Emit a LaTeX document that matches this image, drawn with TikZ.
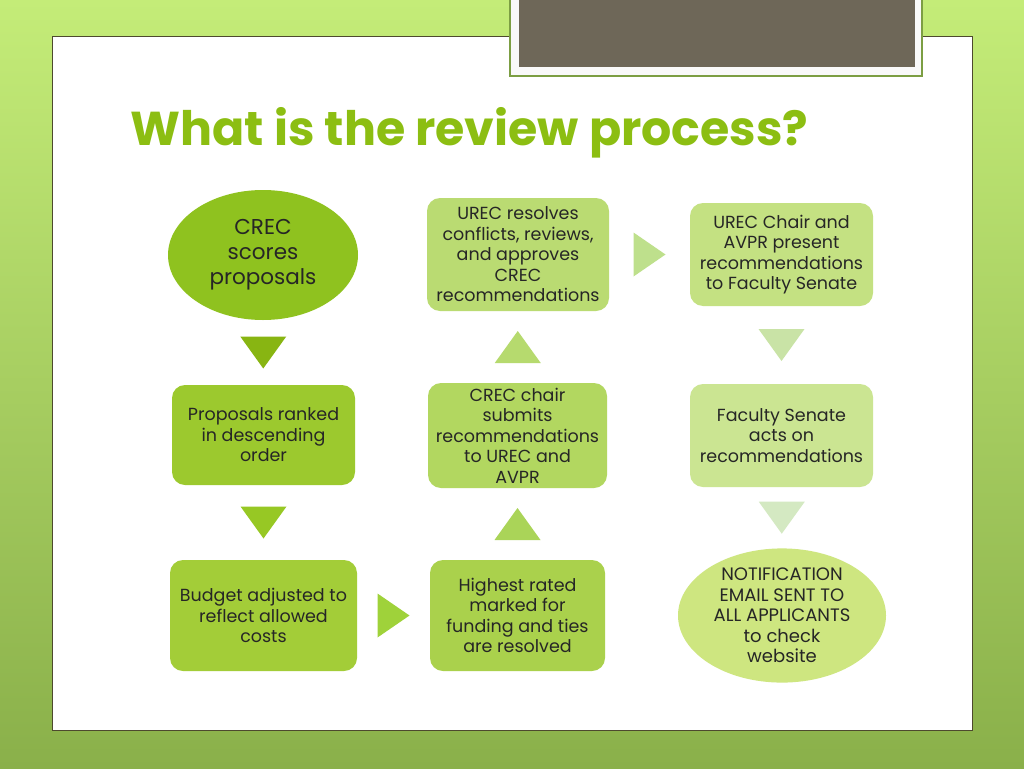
\documentclass[tikz,border=0pt]{standalone}
\usepackage{fontspec}
\setmainfont{Poppins}
\usetikzlibrary{shapes.geometric,calc}

\definecolor{bgtop}{HTML}{C4EC78}
\definecolor{bgbot}{HTML}{8AB04A}
\definecolor{titlegreen}{HTML}{8CBE12}
\definecolor{framegray}{HTML}{6E6758}
\definecolor{cA}{HTML}{8FC21F}
\definecolor{cB}{HTML}{88B512}
\definecolor{cC}{HTML}{9CC92E}
\definecolor{cD}{HTML}{97C824}
\definecolor{cE}{HTML}{A3CD38}
\definecolor{cF}{HTML}{9FD23A}
\definecolor{cG}{HTML}{AAD14C}
\definecolor{cH}{HTML}{AAD458}
\definecolor{cI}{HTML}{B2D760}
\definecolor{cJ}{HTML}{B6DA6E}
\definecolor{cK}{HTML}{BADB72}
\definecolor{cL}{HTML}{BEE08C}
\definecolor{cM}{HTML}{C4E182}
\definecolor{cN}{HTML}{C9E3A6}
\definecolor{cO}{HTML}{CBE592}
\definecolor{cP}{HTML}{D4E9C2}
\definecolor{cQ}{HTML}{CEE680}

\tikzset{
  box/.style={rounded corners=13pt, align=center, inner sep=0pt, text=black!85,
              font=\fontsize{17.5}{20.5}\selectfont},
  blob/.style={ellipse, align=center, inner sep=0pt, text=black!85},
  down/.pic={\fill (-23,-16) -- (23,-16) -- (0,16) -- cycle;},
  up/.pic={\fill (-23,16) -- (23,16) -- (0,-16) -- cycle;},
  right/.pic={\fill (-16,-22) -- (-16,22) -- (16,0) -- cycle;}
}

\begin{document}
\begin{tikzpicture}[x=1pt,y=-1pt]
    \useasboundingbox (0,0) rectangle (1024,768);
    % background and slide
    \shade[top color=bgtop, bottom color=bgbot] (0,0) rectangle (1024,768);
    \fill[white, draw=black!60!olive, line width=1pt] (52,37) rectangle (972,730);
    \fill[white!95!gray, draw=bgbot!90!black, line width=1.2pt] (510,-5) rectangle (922,76);
    \fill[framegray] (519,-5) rectangle (915,67);
    \node[anchor=base west, text=titlegreen, font=\fontsize{47.5}{50}\selectfont\bfseries] (title) at (127,145) {What is the review process?};

    % steps
    \node[blob, fill=cA, minimum width=190, minimum height=130, font=\fontsize{21.5}{25}\selectfont] (crec) at (263,255) {CREC\\scores\\proposals};
    \node[box, fill=cC, minimum width=183, minimum height=100] (rank) at (263.5,435) {Proposals ranked\\in descending\\order};
    \node[box, fill=cE, minimum width=187, minimum height=111] (budget) at (263.5,615.5) {Budget adjusted to\\reflect allowed\\costs};
    \node[box, fill=cG, minimum width=175, minimum height=111] (high) at (517.5,615.5) {Highest rated\\marked for\\funding and ties\\are resolved};
    \node[box, fill=cI, minimum width=179, minimum height=105] (chair) at (517.5,435.5) {CREC chair\\submits\\recommendations\\to UREC and\\AVPR};
    \node[box, fill=cK, minimum width=182, minimum height=113] (resolve) at (518,254.5) {UREC resolves\\conflicts, reviews,\\and approves\\CREC\\recommendations};
    \node[box, fill=cM, minimum width=183, minimum height=103] (urec) at (781.5,254.5) {UREC Chair and\\AVPR present\\recommendations\\to Faculty Senate};
    \node[box, fill=cO, minimum width=183, minimum height=103] (senate) at (781.5,435.5) {Faculty Senate\\acts on\\recommendations};
    \node[blob, fill=cQ, minimum width=208, minimum height=131, font=\fontsize{18}{20.5}\selectfont] (notify) at (782,615.5) {NOTIFICATION\\EMAIL SENT TO\\ALL APPLICANTS\\to check\\website};

    % arrows between steps
    \pic[fill=cB] at ($(crec.south)!.5!(rank.north)$) {down};
    \pic[fill=cD] at ($(rank.south)!.5!(budget.north)$) {down};
    \pic[fill=cF] at ($(budget.east)!.5!(high.west)$) {right};
    \pic[fill=cH] at ($(high.north)!.5!(chair.south)$) {up};
    \pic[fill=cJ] at ($(chair.north)!.5!(resolve.south)$) {up};
    \pic[fill=cL] at ($(resolve.east)!.5!(urec.west)$) {right};
    \pic[fill=cN] at ($(urec.south)!.5!(senate.north)$) {down};
    \pic[fill=cP] at ($(senate.south)!.5!(notify.north)$) {down};
\end{tikzpicture}
\end{document}
